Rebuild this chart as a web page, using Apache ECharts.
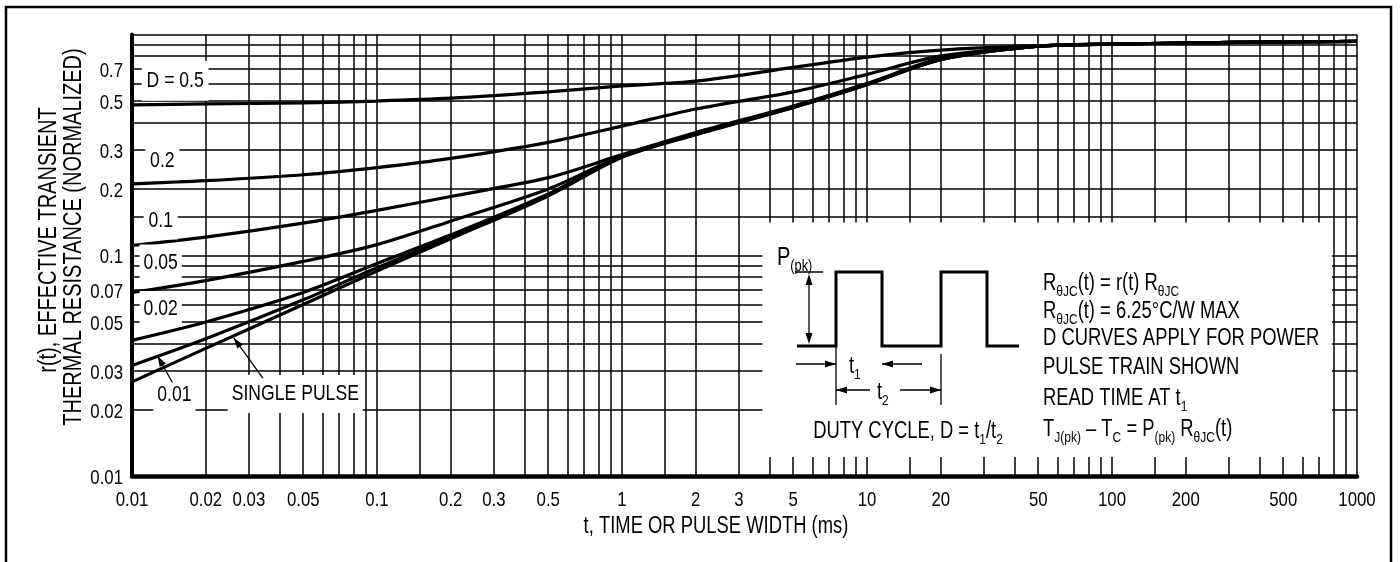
<!DOCTYPE html>
<html>
<head>
<meta charset="utf-8">
<script src="https://cdn.jsdelivr.net/npm/echarts@6/dist/echarts.min.js"></script>
<style>
html, body { margin: 0; padding: 0; background: #fff; }
#main { width: 1400px; height: 562px; }
</style>
</head>
<body>
<div id="main"></div>
<script>
var chart = echarts.init(document.getElementById('main'));

var FONT = "'Liberation Sans', Arial, sans-serif";
var NARROW = 0.8; // squeeze text horizontally, like the datasheet's condensed face

// pulse width t (ms) at which the curves were read
var tMs = [0.01, 0.02, 0.05, 0.1, 0.2, 0.5, 1, 2, 5, 10, 20, 50, 100, 200, 500, 1000];

// r(t), normalized transient thermal resistance, per duty cycle
var rD50 = [0.48, 0.485, 0.49, 0.50, 0.515, 0.55, 0.585, 0.615, 0.71, 0.79, 0.85, 0.89, 0.905, 0.915, 0.925, 0.93];
var rD20 = [0.211, 0.218, 0.232, 0.25, 0.275, 0.325, 0.385, 0.46, 0.55, 0.66, 0.80, 0.885, 0.905, 0.915, 0.925, 0.93];
var rD10 = [0.111, 0.121, 0.14, 0.16, 0.185, 0.225, 0.286, 0.36, 0.475, 0.60, 0.78, 0.885, 0.905, 0.915, 0.925, 0.93];
var rD05 = [0.068, 0.077, 0.094, 0.112, 0.143, 0.20, 0.282, 0.357, 0.472, 0.598, 0.775, 0.885, 0.905, 0.915, 0.925, 0.93];
var rD02 = [0.0413, 0.05, 0.068, 0.092, 0.124, 0.19, 0.28, 0.355, 0.47, 0.596, 0.772, 0.885, 0.905, 0.915, 0.925, 0.93];
var rD01 = [0.0318, 0.042, 0.063, 0.088, 0.121, 0.188, 0.279, 0.353, 0.468, 0.594, 0.77, 0.885, 0.905, 0.915, 0.925, 0.93];
var rSingle = [0.0268, 0.038, 0.06, 0.085, 0.119, 0.186, 0.278, 0.352, 0.467, 0.593, 0.77, 0.885, 0.905, 0.915, 0.925, 0.93];

var curves = [rD50, rD20, rD10, rD05, rD02, rD01, rSingle];

// tick labels
var xTicks = [0.01, 0.02, 0.03, 0.05, 0.1, 0.2, 0.3, 0.5, 1, 2, 3, 5, 10, 20, 50, 100, 200, 500, 1000];
var yTicks = [0.01, 0.02, 0.03, 0.05, 0.07, 0.1, 0.2, 0.3, 0.5, 0.7];

// log paper grid: these multiples in every decade
var gridMult = [1, 1.5, 2, 3, 4, 5, 6, 7, 8, 9];

function gridValues(lo, hi) {
    var out = [];
    for (var p = lo; p < hi; p++) {
        gridMult.forEach(function (m) {
            var v = +(m * Math.pow(10, p)).toPrecision(6);
            if (!(p === lo && m === 1)) out.push(v); // skip the axis line itself
        });
    }
    out.push(Math.pow(10, hi));
    return out;
}
var xGrid = gridValues(-2, 3);
var yGrid = gridValues(-2, 0);

function zip(xs, ys) {
    return xs.map(function (x, i) { return [x, ys[i]]; });
}

var curveSeries = curves.map(function (r) {
    return {
        type: 'line',
        z: 3,
        data: zip(tMs, r),
        smooth: 0.3,
        symbol: 'none',
        silent: true,
        lineStyle: { color: '#000', width: 3.2 }
    };
});

var option = {
    animation: false,
    backgroundColor: '#fff',
    grid: { left: 132, right: 43, top: 34.5, bottom: 85.5 },
    xAxis: {
        type: 'log',
        logBase: 10,
        min: 0.01,
        max: 1000,
        axisLine: { show: true, lineStyle: { color: '#000', width: 4.5 } },
        axisTick: { show: false },
        axisLabel: { show: false },
        splitLine: { show: false }
    },
    yAxis: {
        type: 'log',
        logBase: 10,
        min: 0.01,
        max: 1,
        axisLine: { show: true, lineStyle: { color: '#000', width: 4 } },
        axisTick: { show: false },
        axisLabel: { show: false },
        splitLine: { show: false }
    },
    series: [
        {
            // grid of the log paper
            type: 'line',
            data: [],
            z: 1,
            markLine: {
                z: 1,
                silent: true,
                symbol: ['none', 'none'],
                label: { show: false },
                lineStyle: { color: '#000', width: 1.5, type: 'solid', opacity: 1 },
                data: xGrid.map(function (v) { return { xAxis: v }; })
                    .concat(yGrid.map(function (v) { return { yAxis: v }; }))
            }
        }
    ].concat(curveSeries)
};

chart.setOption(option);

// ---- text, inset box and arrows, placed through the axes ----
function px(t, r) { return chart.convertToPixel({ gridIndex: 0 }, [t, r]); }

function arrowHead(tip, from, len, wid) {
    var dx = tip[0] - from[0], dy = tip[1] - from[1];
    var d = Math.sqrt(dx * dx + dy * dy);
    var ux = dx / d, uy = dy / d;
    var bx = tip[0] - ux * len, by = tip[1] - uy * len;
    return {
        type: 'polygon', z: 6, silent: true,
        shape: { points: [tip, [bx - uy * wid / 2, by + ux * wid / 2], [bx + uy * wid / 2, by - ux * wid / 2]] },
        style: { fill: '#000' }
    };
}
function seg(a, b, w) {
    return { type: 'line', z: 6, silent: true, shape: { x1: a[0], y1: a[1], x2: b[0], y2: b[1] }, style: { stroke: '#000', lineWidth: w || 1.3 } };
}
function arrow(from, tip, w) {
    return [seg(from, tip, w), arrowHead(tip, from, 11, 7)];
}

function richFor(size) {
    return {
        n: { fontFamily: FONT, fontSize: size, fill: '#000' },
        s: { fontFamily: FONT, fontSize: Math.round(size * 0.64), fill: '#000', padding: [Math.round(size * 0.66), 0, 0, 0] }
    };
}
function txt(x, y, text, opts) {
    opts = opts || {};
    var size = opts.size || 23;
    var style = {
        text: text, rich: richFor(size), fontFamily: FONT, fontSize: size, fill: '#000',
        align: opts.align || 'left', verticalAlign: 'middle'
    };
    if (opts.bg) { style.backgroundColor = '#fff'; style.padding = opts.bg; }
    return {
        type: 'text', z: opts.z || 6, silent: true, x: x, y: y,
        rotation: opts.rotation || 0, scaleX: NARROW,
        style: style
    };
}

var boxA = px(3.74, 0.141), boxB = px(790, 0.01225);

var g = [
    // page frame
    { type: 'rect', z: 6, silent: true, shape: { x: 6, y: 7, width: 1385, height: 640 }, style: { fill: 'none', stroke: '#000', lineWidth: 2.5 } },
    // white inset over the paper
    { type: 'rect', z: 2, silent: true, shape: { x: boxA[0], y: boxA[1], width: boxB[0] - boxA[0], height: boxB[1] - boxA[1] }, style: { fill: '#fff' } },
    // pulse train
    { type: 'polyline', z: 6, silent: true,
      shape: { points: [[797, 346], [836, 346], [836, 272], [882, 272], [882, 346], [941, 346], [941, 272], [987, 272], [987, 346], [1019, 346]] },
      style: { stroke: '#000', lineWidth: 3, fill: null } },
    seg([795, 272], [823, 272], 1.5),
    seg([809, 283], [809, 335], 1.3),
    arrowHead([809, 274], [809, 290], 11, 7),
    arrowHead([809, 344], [809, 330], 11, 7),
    seg([836, 346], [836, 405], 1.3),
    seg([941, 354], [941, 405], 1.3),
    txt(777, 258, '{n|P}{s|(pk)}', { size: 25 }),
    txt(849, 367, '{n|t}{s|1}'),
    txt(877, 393, '{n|t}{s|2}'),
    txt(908, 432, '{n|DUTY CYCLE, D = t}{s|1}{n|/t}{s|2}', { align: 'center' })
]
    .concat(arrow([796, 364], [836, 364]))
    .concat(arrow([922, 364], [882, 364]))
    .concat(arrow([870, 390], [836, 390]))
    .concat(arrow([900, 390], [941, 390]))
    .concat([
        txt(1043, 284, '{n|R}{s|θJC}{n|(t) = r(t) R}{s|θJC}'),
        txt(1043, 312, '{n|R}{s|θJC}{n|(t) = 6.25°C/W MAX}'),
        txt(1043, 339, '{n|D CURVES APPLY FOR POWER}'),
        txt(1043, 368, '{n|PULSE TRAIN SHOWN}'),
        txt(1043, 399, '{n|READ TIME AT t}{s|1}'),
        txt(1043, 430, '{n|T}{s|J(pk)}{n| – T}{s|C}{n| = P}{s|(pk)}{n| R}{s|θJC}{n|(t)}'),
        // axis titles
        txt(716, 527, 't, TIME OR PULSE WIDTH (ms)', { align: 'center' }),
        txt(49, 240, 'r(t), EFFECTIVE TRANSIENT', { align: 'center', rotation: Math.PI / 2, size: 25 }),
        txt(74, 237, 'THERMAL RESISTANCE (NORMALIZED)', { align: 'center', rotation: Math.PI / 2, size: 25 })
    ])
    .concat(arrow(px(0.0146, 0.0267), px(0.0127, 0.0352)))
    .concat(arrow(px(0.0342, 0.0279), px(0.026, 0.0425)));

// tick labels
yTicks.forEach(function (v) {
    var p = px(0.01, v);
    g.push(txt(p[0] - 9, p[1] + 2, String(v), { align: 'right', size: 21 }));
});
xTicks.forEach(function (v) {
    var p = px(v, 0.01);
    g.push(txt(p[0], p[1] + 24, String(v), { align: 'center', size: 21 }));
});

// curve names on white patches
[
    [0.015, 0.617, 'D = 0.5', [9, 6]],
    [0.0133, 0.267, '0.2', [8, 6]],
    [0.0131, 0.144, '0.1', [8, 6]],
    [0.0131, 0.093, '0.05', [7, 5]],
    [0.0131, 0.0573, '0.02', [7, 5]],
    [0.0149, 0.0233, '0.01', [7, 5]],
    [0.0464, 0.0236, 'SINGLE PULSE', [8, 5]]
].forEach(function (a) {
    var p = px(a[0], a[1]);
    g.push(txt(p[0], p[1], a[2], { align: 'center', size: 22, bg: a[3], z: 4 }));
});

chart.setOption({ graphic: g });
</script>
</body>
</html>
